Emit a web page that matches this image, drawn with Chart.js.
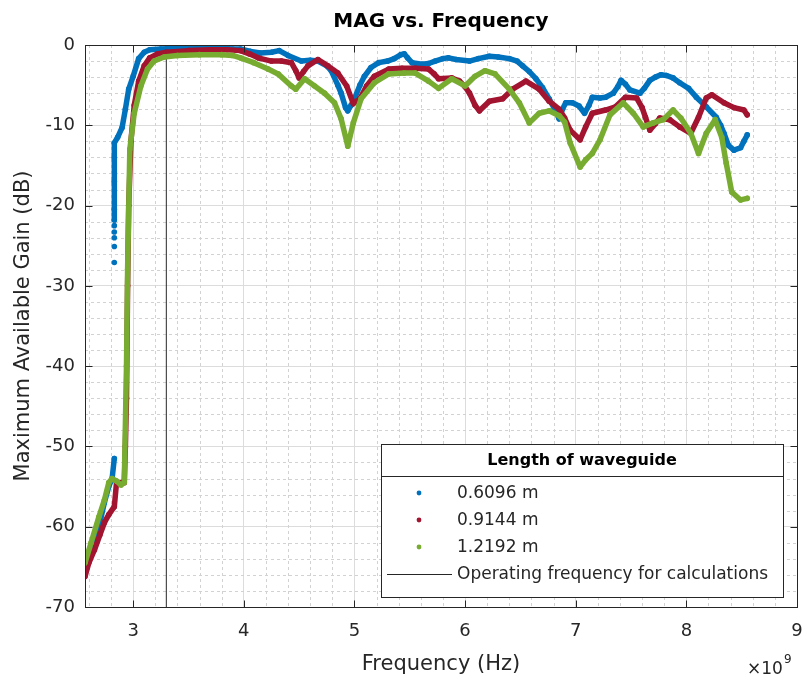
<!DOCTYPE html>
<html>
<head>
<meta charset="utf-8">
<title>MAG vs. Frequency</title>
<script src="https://cdn.jsdelivr.net/npm/chart.js@4.4.1/dist/chart.umd.min.js"></script>
<style>
  html, body { margin: 0; padding: 0; background: #fff; }
  canvas { display: block; }
</style>
</head>
<body>
<canvas id="magChart" width="809" height="688"></canvas>
<script>
// frequencies in GHz, gains in dB
const freqBlue = [2.565, 2.60, 2.65, 2.70, 2.74, 2.78, 2.81, 2.83, 2.83, 2.83, 2.83, 2.83, 2.83, 2.83, 2.83, 2.83, 2.83, 2.83,
  2.86, 2.90, 2.93, 2.96, 3.00, 3.05, 3.10, 3.15, 3.25, 3.40, 3.60, 3.80, 3.90, 3.97, 4.06, 4.15, 4.25, 4.32, 4.40, 4.52,
  4.60, 4.67, 4.75, 4.79, 4.85, 4.88, 4.92, 4.94, 4.97, 5.00, 5.05, 5.09, 5.15, 5.22, 5.30, 5.36, 5.42, 5.45, 5.48, 5.52,
  5.61, 5.67, 5.73, 5.80, 5.85, 5.92, 6.04, 6.12, 6.22, 6.30, 6.40, 6.47, 6.52, 6.58, 6.64, 6.70, 6.76, 6.81, 6.85, 6.88,
  6.91, 6.97, 7.03, 7.08, 7.12, 7.15, 7.22, 7.27, 7.34, 7.38, 7.41, 7.45, 7.49, 7.58, 7.62, 7.67, 7.72, 7.77, 7.82, 7.88,
  7.94, 8.02, 8.09, 8.18, 8.27, 8.31, 8.34, 8.38, 8.43, 8.49, 8.52, 8.55];
const magBlue = [-64.5, -63.5, -62, -59.5, -57, -55, -54, -51.5, -27.1, -25.1, -24.0, -23.3, -22.5, -21.8, -20.5, -17, -14, -12.2,
  -11.5, -10.3, -8, -5.5, -3.9, -1.7, -0.9, -0.6, -0.5, -0.4, -0.4, -0.4, -0.5, -0.5, -0.8, -1.0, -0.9, -0.7, -1.3, -2.0,
  -1.9, -2.0, -2.6, -3.2, -5, -6, -7.8, -8.2, -7.5, -6.7, -5, -3.9, -2.8, -2.2, -2.0, -1.7, -1.2, -1.1, -1.6, -2.2,
  -2.4, -2.3, -2.0, -1.7, -1.6, -1.8, -2.0, -1.7, -1.4, -1.5, -1.7, -2.0, -2.6, -3.3, -4.2, -5.3, -6.7, -8, -9.2, -8,
  -7.2, -7.2, -7.6, -8.5, -7.5, -6.5, -6.6, -6.5, -6.0, -5.2, -4.4, -4.9, -5.6, -6.0, -5.4, -4.4, -4.0, -3.7, -3.8, -4.1,
  -4.7, -5.4, -6.5, -7.7, -9.0, -10, -11, -12.5, -13.1, -12.8, -12, -11.2];

const freqRed = [2.565, 2.60, 2.65, 2.70, 2.74, 2.78, 2.83, 2.85, 2.92, 2.93, 2.94, 2.95, 2.96, 2.98, 3.01, 3.05, 3.10, 3.15,
  3.22, 3.30, 3.50, 3.70, 3.85, 3.97, 4.05, 4.13, 4.25, 4.34, 4.43, 4.47, 4.50, 4.54, 4.58, 4.67, 4.76, 4.85, 4.93, 4.99,
  5.05, 5.11, 5.18, 5.31, 5.43, 5.55, 5.67, 5.72, 5.76, 5.88, 5.95, 6.00, 6.04, 6.09, 6.13, 6.22, 6.34, 6.43, 6.55, 6.67,
  6.76, 6.85, 6.90, 6.95, 7.04, 7.09, 7.15, 7.27, 7.36, 7.45, 7.55, 7.60, 7.63, 7.67, 7.72, 7.76, 7.85, 7.94, 8.04, 8.11,
  8.18, 8.23, 8.34, 8.43, 8.52, 8.55];
const magRed = [-66.2, -64.5, -62.9, -61, -59.5, -58.5, -57.5, -54.5, -54.5, -50, -44, -30, -20, -12, -7.5, -4.5, -2.6, -1.6,
  -1.1, -0.9, -0.7, -0.6, -0.6, -0.7, -1.1, -1.6, -2.0, -2.0, -2.2, -3.2, -4.1, -3.3, -2.6, -1.8, -2.6, -3.5, -5.1, -7.3,
  -6.7, -5.1, -3.9, -3.0, -2.9, -2.9, -3.0, -3.6, -4.2, -4.1, -4.5, -5.2, -6.0, -7.5, -8.2, -7.0, -6.7, -5.5, -4.5, -5.5,
  -7.0, -8.0, -9.1, -10.6, -11.8, -10.2, -8.5, -8.1, -7.7, -6.5, -6.6, -7.8, -9.0, -10.6, -9.8, -9.1, -9.3, -10.2, -11.0, -9.0,
  -6.6, -6.2, -7.2, -7.8, -8.1, -8.7];

const freqGreen = [2.565, 2.62, 2.69, 2.74, 2.78, 2.81, 2.85, 2.89, 2.92, 2.94, 2.95, 2.97, 3.01, 3.07, 3.13, 3.19, 3.28, 3.40,
  3.60, 3.80, 3.90, 3.97, 4.09, 4.22, 4.31, 4.43, 4.47, 4.55, 4.64, 4.73, 4.82, 4.88, 4.94, 4.99, 5.06, 5.18, 5.31, 5.45,
  5.55, 5.67, 5.76, 5.88, 6.00, 6.09, 6.18, 6.27, 6.40, 6.49, 6.58, 6.67, 6.76, 6.85, 6.90, 6.95, 7.04, 7.09, 7.15, 7.22,
  7.31, 7.43, 7.52, 7.61, 7.70, 7.79, 7.88, 7.95, 8.04, 8.11, 8.18, 8.26, 8.32, 8.36, 8.41, 8.49, 8.55];
const magGreen = [-64.5, -62, -58.8, -56.7, -54.5, -54, -54.3, -54.8, -54.5, -40, -28, -13, -8.5, -5.1, -3.0, -2.0, -1.5, -1.3,
  -1.2, -1.2, -1.3, -1.6, -2.2, -3.0, -3.6, -5.1, -5.5, -4.2, -5.1, -6.0, -7.2, -9.2, -12.6, -9.7, -6.7, -4.7, -3.6, -3.5,
  -3.5, -4.5, -5.4, -4.2, -5.1, -3.9, -3.2, -3.6, -5.5, -7.2, -9.7, -8.5, -8.2, -8.8, -9.6, -12.2, -15.2, -14.3, -13.5, -11.8,
  -8.7, -7.2, -8.5, -10.2, -9.7, -9.3, -8.1, -9.1, -11.0, -13.5, -11.0, -9.3, -11.5, -14.7, -18.3, -19.3, -19.1];

const seriesLabels = ['0.6096 m', '0.9144 m', '1.2192 m'];
const operatingFreq = 3.3; // GHz
const xTicks = [3, 4, 5, 6, 7, 8, 9];
const yTicks = [-70, -60, -50, -40, -30, -20, -10, 0];

const colors = ['#0072BD', '#A2142F', '#77AC30'];
const axisColor = '#262626';
const fontFamily = '"DejaVu Sans", Verdana, sans-serif';

function toPoints(freqs, mags) {
    return freqs.map((f, i) => ({ x: f * 1e9, y: mags[i] }));
}

function seriesDataset(label, freqs, mags, color, order) {
    return {
        label: label,
        data: toPoints(freqs, mags),
        borderColor: color,
        backgroundColor: color,
        borderWidth: 5.5,
        pointRadius: 2.8,
        pointBorderWidth: 0,
        pointBackgroundColor: color,
        borderJoinStyle: 'round',
        borderCapStyle: 'round',
        tension: 0,
        order: order
    };
}

const blueSet = seriesDataset(seriesLabels[0], freqBlue, magBlue, colors[0], 2);
// the jump at the cut-off is drawn as separate dots
blueSet.segment = {
    borderColor: ctx => (ctx.p0.parsed.x === ctx.p1.parsed.x && ctx.p0.parsed.y < -22 ? 'rgba(0,0,0,0)' : undefined)
};

// minor grid, box and inward tick marks like a matlab axes
const matlabAxes = {
    id: 'matlabAxes',
    beforeDatasetsDraw(chart) {
        const { ctx, chartArea: a, scales: { x, y } } = chart;
        ctx.save();
        ctx.strokeStyle = '#d2d2d2';
        ctx.lineWidth = 1;
        ctx.setLineDash([3, 3]);
        for (let k = 13; k < 45; k++) {
            if (k % 5 === 0) continue;
            const px = Math.round(x.getPixelForValue(k * 0.2e9)) + 0.5;
            ctx.beginPath(); ctx.moveTo(px, a.top); ctx.lineTo(px, a.bottom); ctx.stroke();
        }
        for (let k = -34; k < 0; k++) {
            if (k % 5 === 0) continue;
            const py = Math.round(y.getPixelForValue(k * 2)) + 0.5;
            ctx.beginPath(); ctx.moveTo(a.left, py); ctx.lineTo(a.right, py); ctx.stroke();
        }
        ctx.restore();
    },
    afterDatasetsDraw(chart) {
        const { ctx, chartArea: a, scales: { x, y } } = chart;
        const L = Math.round(a.left) + 0.5, R = Math.round(a.right) + 0.5;
        const T = Math.round(a.top) + 0.5, B = Math.round(a.bottom) + 0.5;
        ctx.save();
        ctx.strokeStyle = axisColor;
        ctx.lineWidth = 1;
        ctx.strokeRect(L, T, R - L, B - T);
        ctx.beginPath();
        xTicks.forEach(t => {
            const px = Math.round(x.getPixelForValue(t * 1e9)) + 0.5;
            ctx.moveTo(px, B); ctx.lineTo(px, B - 7);
            ctx.moveTo(px, T); ctx.lineTo(px, T + 7);
        });
        yTicks.forEach(t => {
            const py = Math.round(y.getPixelForValue(t)) + 0.5;
            ctx.moveTo(L, py); ctx.lineTo(L + 7, py);
            ctx.moveTo(R, py); ctx.lineTo(R - 7, py);
        });
        ctx.stroke();

        // exponent label
        ctx.fillStyle = axisColor;
        ctx.textBaseline = 'alphabetic';
        ctx.textAlign = 'left';
        ctx.font = '17px ' + fontFamily;
        ctx.fillText('\u00d710', 747, 674);
        ctx.font = '12px ' + fontFamily;
        ctx.fillText('9', 784, 663);
        ctx.restore();
    },
    afterDraw(chart) {
        const { ctx } = chart;
        const box = { left: 381, top: 444, right: 783, bottom: 597 };
        ctx.save();
        ctx.fillStyle = '#fff';
        ctx.fillRect(box.left, box.top, box.right - box.left, box.bottom - box.top);
        ctx.strokeStyle = axisColor;
        ctx.lineWidth = 1;
        ctx.strokeRect(box.left + 0.5, box.top + 0.5, box.right - box.left, box.bottom - box.top);
        ctx.beginPath();
        ctx.moveTo(box.left, 476.5); ctx.lineTo(box.right, 476.5);
        ctx.stroke();

        ctx.fillStyle = '#000';
        ctx.font = 'bold 16px ' + fontFamily;
        ctx.textAlign = 'center';
        ctx.textBaseline = 'middle';
        ctx.fillText('Length of waveguide', (box.left + box.right) / 2, 461);

        ctx.font = '17px ' + fontFamily;
        ctx.textAlign = 'left';
        const rows = [493, 520, 547];
        seriesLabels.forEach((lab, i) => {
            ctx.fillStyle = colors[i];
            ctx.beginPath();
            ctx.arc(419, rows[i], 2.4, 0, Math.PI * 2);
            ctx.fill();
            ctx.fillStyle = axisColor;
            ctx.fillText(lab, 457, rows[i] + 1);
        });
        ctx.strokeStyle = axisColor;
        ctx.beginPath();
        ctx.moveTo(387, 574.5); ctx.lineTo(452, 574.5);
        ctx.stroke();
        ctx.fillText('Operating frequency for calculations', 457, 575);
        ctx.restore();
    }
};

const data = {
    datasets: [
        blueSet,
        seriesDataset(seriesLabels[1], freqRed, magRed, colors[1], 1),
        seriesDataset(seriesLabels[2], freqGreen, magGreen, colors[2], 0),
        {
            label: 'Operating frequency for calculations',
            data: [{ x: operatingFreq * 1e9, y: -70 }, { x: operatingFreq * 1e9, y: 0 }],
            borderColor: axisColor,
            borderWidth: 1,
            pointRadius: 0,
            order: 5
        }
    ]
};

const config = {
    type: 'line',
    data: data,
    options: {
        responsive: false,
        animation: false,
        devicePixelRatio: 1,
        layout: { padding: { left: 0, right: 12, top: 0, bottom: 0 } },
        plugins: {
            legend: { display: false },
            tooltip: { enabled: false },
            title: {
                display: true,
                text: 'MAG vs. Frequency',
                color: '#000',
                fullSize: false,
                font: { family: fontFamily, size: 20, weight: 'bold' },
                padding: { top: 10, bottom: 11 }
            }
        },
        scales: {
            x: {
                type: 'linear',
                min: 2.565e9,
                max: 9e9,
                afterBuildTicks: s => { s.ticks = xTicks.map(v => ({ value: v * 1e9 })); },
                afterFit: s => { s.height = 81; s.paddingLeft = 0; s.paddingRight = 0; },
                ticks: {
                    callback: v => String(Math.round(v / 1e9)),
                    color: axisColor,
                    font: { family: fontFamily, size: 18 },
                    padding: 14,
                    maxRotation: 0
                },
                grid: { color: '#dcdcdc', drawTicks: false },
                border: { display: false },
                title: {
                    display: true,
                    text: 'Frequency (Hz)',
                    color: axisColor,
                    font: { family: fontFamily, size: 21 },
                    padding: { top: 0, bottom: 11 }
                }
            },
            y: {
                min: -70,
                max: 0,
                afterBuildTicks: s => { s.ticks = yTicks.map(v => ({ value: v })); },
                afterFit: s => { s.width = 85; s.paddingTop = 0; s.paddingBottom = 0; },
                ticks: {
                    color: axisColor,
                    font: { family: fontFamily, size: 18 },
                    padding: 10
                },
                grid: { color: '#dcdcdc', drawTicks: false },
                border: { display: false },
                title: {
                    display: true,
                    text: 'Maximum Available Gain (dB)',
                    color: axisColor,
                    font: { family: fontFamily, size: 21 },
                    padding: { top: 11, bottom: 0 }
                }
            }
        }
    },
    plugins: [matlabAxes]
};

new Chart(document.getElementById('magChart').getContext('2d'), config);
</script>
</body>
</html>
